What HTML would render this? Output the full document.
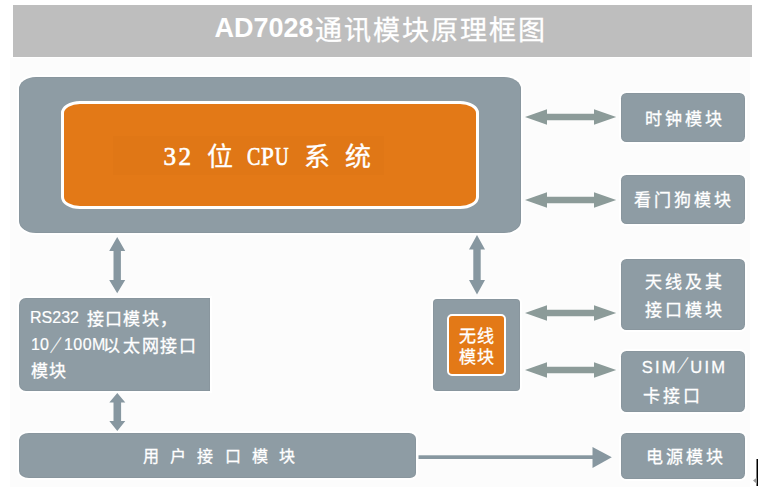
<!DOCTYPE html>
<html lang="zh-CN"><head><meta charset="utf-8">
<style>
html,body{margin:0;padding:0;}
body{width:758px;height:487px;background:#fff;position:relative;overflow:hidden;font-family:"Liberation Sans",sans-serif;}
.a{position:absolute;white-space:nowrap;}
.bg{left:10px;top:58px;width:740px;height:429px;background:#fcfcfc;}
.title{left:13px;top:5px;width:739px;height:52px;background:#bebebe;}
.ten{left:214.5px;top:13.3px;color:#fff;font-weight:bold;font-size:27px;line-height:30px;}
.tcn{left:314.5px;top:14.7px;color:#fff;font-size:27px;line-height:32px;letter-spacing:2px;-webkit-text-stroke:0.3px #fff;}
.box{background:#8e9ca4;box-shadow:0 0 1px 2px #fff,inset 0 0 1px 0.5px rgba(0,0,0,0.07);}
.main{left:19px;top:77px;width:502px;height:155.5px;border-radius:17px/12px;}
.cpu{left:61px;top:100.5px;width:417.5px;height:108px;border-radius:19px/12px;border:3.5px solid #fff;box-sizing:border-box;background:#e37917;}
.cpuin{left:113px;top:136px;width:271px;height:39px;background:rgba(0,0,0,0.012);}
.cs{color:#fff;font-family:"Liberation Serif",serif;font-size:25px;line-height:25px;-webkit-text-stroke:0.7px #fff;transform-origin:0 0;}
.cc{color:#fff;font-size:26px;line-height:26px;-webkit-text-stroke:0.3px #fff;}
.t{color:#fff;font-size:17px;line-height:20px;-webkit-text-stroke:0.3px #fff;}
.sl{display:inline-block;transform:translateX(-2px) scaleX(0.68);}
.rbox{left:621px;width:123.5px;border-radius:5.5px;}
.l{position:relative;top:-1.5px;font-size:16px;letter-spacing:0;-webkit-text-stroke:0.2px #fff;}
</style></head>
<body>
<div class="a bg"></div>
<div class="a title"></div>
<div class="a ten">AD7028</div>
<div class="a tcn">通讯模块原理框图</div>

<div class="a box main"></div>
<div class="a cpu"></div>
<div class="a cpuin"></div>
<div class="a cs" style="left:163.5px;top:144px;">3</div>
<div class="a cs" style="left:178.5px;top:144px;">2</div>
<div class="a cc" style="left:206.5px;top:143.5px;">位</div>
<div class="a cs" style="left:246.6px;top:144px;transform:scaleX(0.8);">C</div>
<div class="a cs" style="left:261px;top:144px;transform:scaleX(0.92);">P</div>
<div class="a cs" style="left:275px;top:144px;transform:scaleX(0.75);">U</div>
<div class="a cc" style="left:304px;top:143.5px;">系</div>
<div class="a cc" style="left:344.5px;top:143.5px;">统</div>

<!-- right boxes -->
<div class="a box rbox" style="top:93px;height:49px;"></div>
<div class="a t" style="left:645px;top:109.5px;letter-spacing:2.9px;">时钟模块</div>
<div class="a box rbox" style="top:175px;height:48.5px;"></div>
<div class="a t" style="left:634px;top:191px;letter-spacing:3.1px;">看门狗模块</div>
<div class="a box rbox" style="top:259px;height:70.5px;"></div>
<div class="a t" style="left:645px;top:269px;letter-spacing:2.9px;line-height:28.4px;">天线及其<br>接口模块</div>
<div class="a box rbox" style="top:351px;height:61px;"></div>
<div class="a t" style="left:641.8px;top:357px;font-size:16.5px;letter-spacing:2.2px;">SIM</div>
<div class="a t" style="left:673.8px;top:357px;"><span class="sl" style="transform:scaleX(0.68)">／</span></div>
<div class="a t" style="left:690.3px;top:357px;font-size:16.5px;letter-spacing:2.2px;">UIM</div>
<div class="a t" style="left:643px;top:387.3px;letter-spacing:2.9px;">卡接口</div>
<div class="a box rbox" style="top:433px;height:45.5px;"></div>
<div class="a t" style="left:646px;top:448px;letter-spacing:2.9px;">电源模块</div>

<!-- left boxes -->
<div class="a box" style="left:19px;top:297.5px;width:190.5px;height:93px;border-radius:7px 0 0 7px;"></div>
<div class="a t" style="left:30px;top:309.5px;"><span class="l">RS232</span><span style="margin-left:8px;letter-spacing:1.2px">接口模块，</span></div>
<div class="a t" style="left:31px;top:336.5px;"><span class="l">10</span><span class="sl">／</span><span class="l" style="margin-left:-1.9px;letter-spacing:0.5px">100M</span><span style="margin-left:-2.5px;letter-spacing:1.5px">以</span><span style="margin-left:1.5px;letter-spacing:1.5px">太网接口</span></div>
<div class="a t" style="left:31px;top:362px;letter-spacing:1px;">模块</div>
<div class="a box" style="left:18.5px;top:432.5px;width:397.5px;height:45.3px;border-radius:10px 7px 6px 10px / 7px 6px 5px 7px;"></div>
<div class="a t" style="left:143px;top:447px;font-size:16px;letter-spacing:11.2px;">用户接口模块</div>

<!-- wireless -->
<div class="a box" style="left:433px;top:299px;width:87px;height:92px;border-radius:4px;"></div>
<div class="a" style="left:447px;top:313.5px;width:59px;height:62px;border-radius:5px;border:2px solid #fff;box-sizing:border-box;background:#e37917;"></div>
<div class="a t" style="left:459px;top:325.5px;line-height:21px;letter-spacing:1px;">无线<br>模块</div>

<svg class="a" style="left:0;top:0;" width="758" height="487">
 <g fill="#8c9b99">
  <polygon points="525,117 547,109.3 547,113.7 594,113.7 594,109.3 616.2,117 594,124.7 594,120.3 547,120.3 547,124.7"/>
  <polygon points="525,200 547,192.3 547,196.7 594,196.7 594,192.3 616.2,200 594,207.7 594,203.3 547,203.3 547,207.7"/>
  <polygon points="525,313 547,305.3 547,309.7 594,309.7 594,305.3 616.2,313 594,320.7 594,316.3 547,316.3 547,320.7"/>
  <polygon points="525,370 547,362.3 547,366.7 594,366.7 594,362.3 616.2,370 594,377.7 594,373.3 547,373.3 547,377.7"/>
 </g>
 <g fill="#8797a0">
  <polygon points="117.2,237 125.2,251 120.9,251 120.9,280 125.2,280 117.2,293.2 109.2,280 113.5,280 113.5,251 109.2,251"/>
  <polygon points="477,235 485,249.5 480.7,249.5 480.7,280 485,280 477,294.5 469,280 473.3,280 473.3,249.5 469,249.5"/>
  <polygon points="117.3,393 125.3,402.5 121.1,402.5 121.1,421 125.3,421 117.3,431 109.3,421 113.5,421 113.5,402.5 109.3,402.5"/>
 </g>
 <g fill="#8797a0">
  <rect x="418.5" y="455.3" width="175" height="3.7"/>
  <polygon points="592.5,447 611.8,457.2 592.5,468"/>
 </g>
 <rect x="756.5" y="459" width="1.5" height="27" fill="#000"/>
 <polygon points="753,480.5 757,477.5 757,484" fill="#999"/>
</svg>
</body></html>
